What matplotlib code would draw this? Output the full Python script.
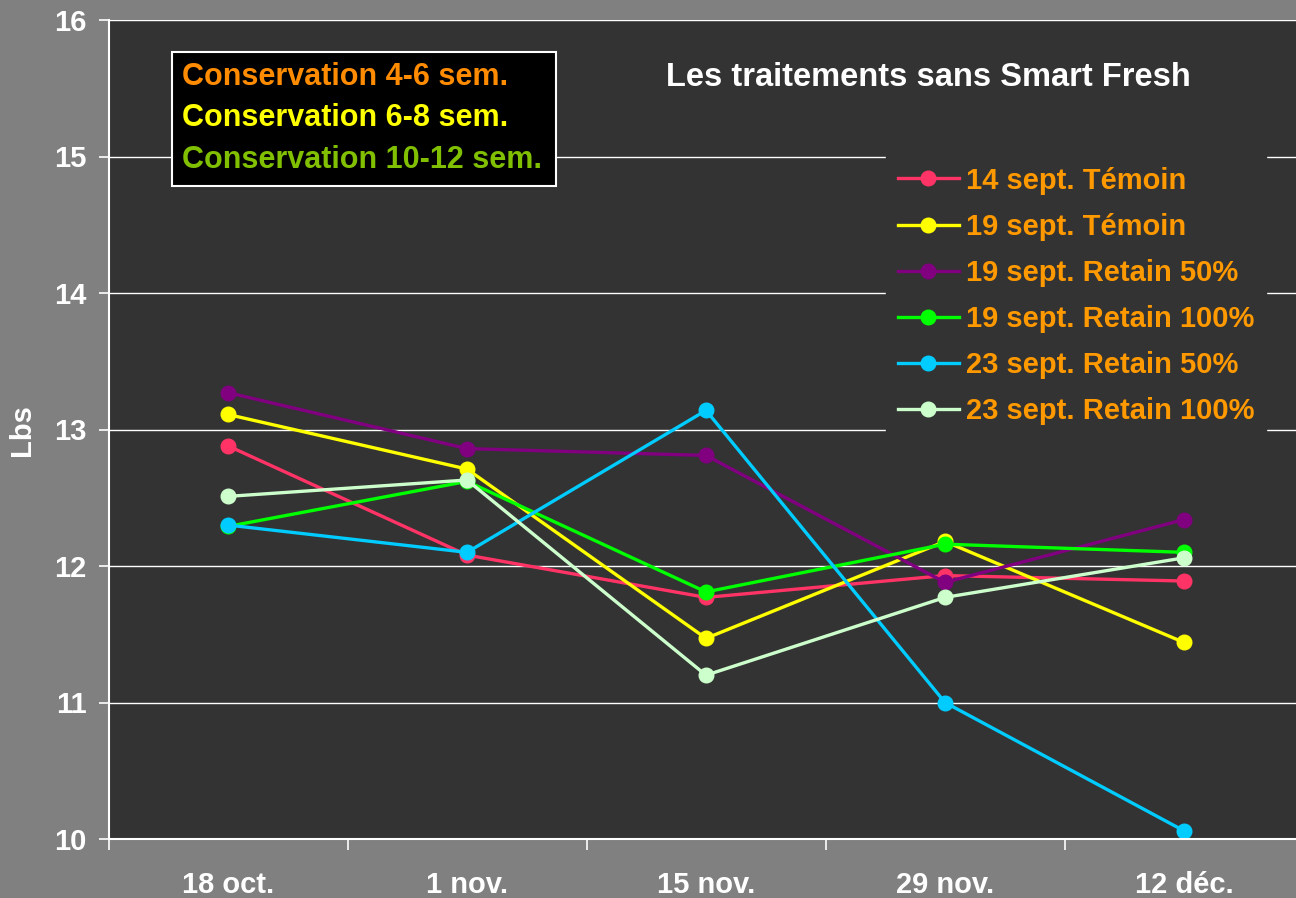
import matplotlib.pyplot as plt
from matplotlib.patches import Rectangle

plt.rcParams['font.family'] = ['Liberation Sans', 'DejaVu Sans']
plt.rcParams['font.weight'] = 'bold'

dates = ["18 oct.", "1 nov.", "15 nov.", "29 nov.", "12 déc."]
labels = ["14 sept. Témoin", "19 sept. Témoin", "19 sept. Retain 50%",
          "19 sept. Retain 100%", "23 sept. Retain 50%", "23 sept. Retain 100%"]
colors = ["#FF3366", "#FFFF00", "#800080", "#00FF00", "#00CCFF", "#CCFFCC"]

t14_temoin = [12.88, 12.08, 11.77, 11.93, 11.89]
t19_temoin = [13.11, 12.71, 11.47, 12.18, 11.44]
t19_r50 = [13.27, 12.86, 12.81, 11.88, 12.34]
t19_r100 = [12.29, 12.62, 11.81, 12.16, 12.10]
t23_r50 = [12.30, 12.10, 13.14, 11.00, 10.06]
t23_r100 = [12.51, 12.63, 11.20, 11.77, 12.06]
series = [t14_temoin, t19_temoin, t19_r50, t19_r100, t23_r50, t23_r100]

W, H = 1296, 898
fs = 21
fig = plt.figure(figsize=(W / 100, H / 100), dpi=100, facecolor="#808080")
ax = fig.add_axes([108.5 / W, 59 / H, 1195 / W, 819 / H])
ax.set_facecolor("#333333")

x = list(range(len(dates)))
for vals, lab, col in zip(series, labels, colors):
    ax.plot(x, vals, color=col, lw=2.4, marker="o", ms=10.5, label=lab)

ax.set_xlim(-0.5, 4.5)
ax.set_ylim(10, 16)
ax.set_yticks(range(10, 17))
ax.yaxis.grid(True, color="white", lw=1)
ax.set_axisbelow(True)

# category boundaries as major ticks, labels on minor ticks
ax.set_xticks([i - 0.5 for i in range(len(dates) + 1)])
ax.set_xticklabels([])
ax.set_xticks(x, minor=True)
ax.set_xticklabels(dates, minor=True, fontweight="bold")
ax.tick_params(axis="x", which="major", direction="out", length=8, color="white", width=1.2)
ax.tick_params(axis="x", which="minor", length=0, pad=23, labelsize=fs, labelcolor="white")
ax.tick_params(axis="y", direction="out", length=7, color="white", width=1.2,
               labelsize=fs, labelcolor="white", pad=9)
for t in ax.get_yticklabels():
    t.set_fontweight("bold")

for s in ["top", "right"]:
    ax.spines[s].set_visible(False)
for s in ["left", "bottom"]:
    ax.spines[s].set_color("white")
    ax.spines[s].set_linewidth(1.5)

fig.text(22 / W, 1 - 430 / H, "Lbs", color="white", fontsize=fs, fontweight="bold",
         rotation=90, ha="center", va="center")

leg = ax.legend(loc="upper left", bbox_to_anchor=(886 / W, 1 - 155 / H),
                bbox_transform=fig.transFigure, facecolor="#333333",
                edgecolor="#333333", framealpha=1,
                prop={"size": fs, "weight": "bold"},
                labelcolor="#FF9900", handlelength=2.1, handletextpad=0.25,
                labelspacing=0.62, borderpad=0.4, borderaxespad=0, fancybox=False)

fig.text(928 / W, 1 - 78 / H, "Les traitements sans Smart Fresh", color="white",
         fontsize=23.5, fontweight="bold", ha="center", va="center")

fig.patches.append(Rectangle((172 / W, 1 - 186 / H), 384 / W, 134 / H,
                             transform=fig.transFigure, facecolor="black",
                             edgecolor="white", lw=1.5, zorder=5))
box_lines = ["Conservation 4-6 sem.", "Conservation 6-8 sem.", "Conservation 10-12 sem."]
box_colors = ["#FF8C00", "#FFFF00", "#80C000"]
for i, (t, c) in enumerate(zip(box_lines, box_colors)):
    fig.text(182 / W, 1 - (77 + 41.5 * i) / H, t, color=c, fontsize=22,
             fontweight="bold", ha="left", va="center", zorder=6)

fig.savefig("out.png", dpi=100, facecolor=fig.get_facecolor())
